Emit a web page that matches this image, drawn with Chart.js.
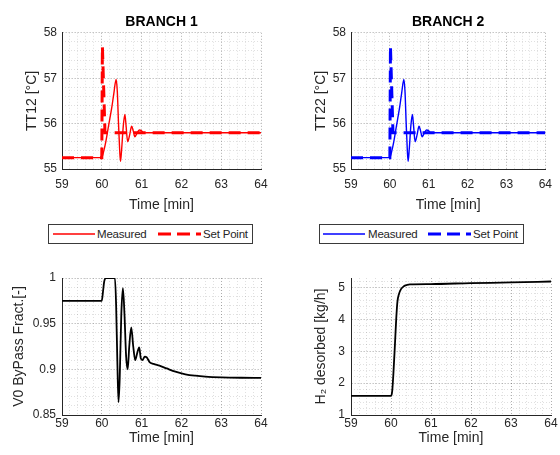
<!DOCTYPE html>
<html><head><meta charset="utf-8">
<script src="https://cdn.jsdelivr.net/npm/chart.js@4"></script>
<style>
body{margin:0;background:#fff;width:560px;height:455px;overflow:hidden;position:relative;font-family:"Liberation Sans",Arial,sans-serif;}
canvas{position:absolute;}
.legend{position:absolute;height:18px;border:1px solid #3a3a3a;background:#fff;font-size:11.5px;color:#262626;}
.legend svg{position:absolute;top:0;left:0;}
.legend span{position:absolute;top:2px;line-height:14px;letter-spacing:-0.2px;}
</style></head><body>
<canvas id="c1" width="280" height="215" style="left:0;top:0"></canvas>
<canvas id="c2" width="280" height="215" style="left:280px;top:0"></canvas>
<canvas id="c3" width="280" height="200" style="left:0;top:255px"></canvas>
<canvas id="c4" width="280" height="200" style="left:280px;top:255px"></canvas>

<div class="legend" style="left:48px;top:224px;width:203px">
  <svg width="200" height="18">
    <line x1="4" y1="9" x2="46" y2="9" stroke="#ff0000" stroke-width="1.3"/>
    <line x1="109" y1="9" x2="152" y2="9" stroke="#ff0000" stroke-width="3" stroke-dasharray="13,6"/>
  </svg>
  <span style="left:48px">Measured</span>
  <span style="left:154px">Set Point</span>
</div>
<div class="legend" style="left:319px;top:224px;width:203px">
  <svg width="200" height="18">
    <line x1="3" y1="9" x2="45" y2="9" stroke="#0000ff" stroke-width="1.3"/>
    <line x1="108" y1="9" x2="151" y2="9" stroke="#0000ff" stroke-width="3" stroke-dasharray="13,6"/>
  </svg>
  <span style="left:48px">Measured</span>
  <span style="left:153px">Set Point</span>
</div>

<script>
// ---------- data ----------
const xTicks = [59, 60, 61, 62, 63, 64];

const measTime = [59, 60.0, 60.05, 60.1, 60.15, 60.2, 60.25, 60.3, 60.36, 60.39, 60.42, 60.45, 60.47, 60.5, 60.54, 60.58, 60.61, 60.65, 60.7, 60.75, 60.79, 60.83, 60.88, 60.94, 61.0, 61.05, 61.12, 61.5, 64];
const tt12Measured = [55.25, 55.25, 55.4, 55.6, 55.85, 56.1, 56.35, 56.65, 56.97, 56.7, 56.0, 55.4, 55.17, 55.45, 55.95, 56.2, 55.95, 55.6, 55.75, 55.94, 55.84, 55.71, 55.78, 55.86, 55.84, 55.79, 55.8, 55.8, 55.8];
const tt22Measured = [55.25, 55.25, 55.4, 55.6, 55.85, 56.1, 56.35, 56.65, 56.97, 56.7, 56.0, 55.4, 55.17, 55.45, 55.95, 56.2, 55.95, 55.6, 55.75, 55.94, 55.84, 55.71, 55.78, 55.86, 55.84, 55.79, 55.8, 55.8, 55.8];

const spTime = [59, 60.0, 60.015, 60.08, 64];
const tt12SetPoint = [55.25, 55.25, 57.7, 55.8, 55.8];
const tt22SetPoint = [55.25, 55.25, 57.7, 55.8, 55.8];

const bypassTime = [59, 60.0, 60.03, 60.06, 60.1, 60.33, 60.36, 60.39, 60.42, 60.45, 60.49, 60.53, 60.57, 60.61, 60.65, 60.69, 60.74, 60.79, 60.84, 60.89, 60.94, 60.98, 61.02, 61.08, 61.13, 61.2, 61.3, 61.45, 61.63, 61.85, 62.1, 62.35, 62.6, 63.0, 63.5, 64];
const bypassFrac = [0.975, 0.975, 0.985, 0.996, 1.0, 1.0, 0.97, 0.91, 0.864, 0.89, 0.96, 0.989, 0.96, 0.915, 0.9, 0.925, 0.946, 0.925, 0.91, 0.918, 0.924, 0.912, 0.91, 0.914, 0.913, 0.908, 0.906, 0.904, 0.901, 0.8975, 0.8946, 0.893, 0.892, 0.8912, 0.8908, 0.8907];

const h2Time = [59, 60.0, 60.03, 60.06, 60.1, 60.13, 60.16, 60.2, 60.25, 60.32, 60.4, 60.47, 61, 62, 63, 64];
const h2Desorbed = [1.6, 1.6, 1.75, 2.3, 3.25, 4.0, 4.55, 4.8, 4.95, 5.04, 5.08, 5.1, 5.11, 5.14, 5.16, 5.19];

// ---------- styling ----------
const FONT = '"Liberation Sans", Arial, sans-serif';
const TXT = '#262626';
const AXIS = '#262626';
const MAJOR = 'rgba(0,0,0,0.22)';
const MINOR = 'rgba(0,0,0,0.12)';

function pts(xs, ys){ return xs.map((x,i)=>({x:x, y:ys[i]})); }
function fmt(v){ return String(+Number(v).toFixed(4)); }

function buildScales(o){
  return {
    xm: {type:'linear', position:'bottom', min:59, max:64,
      ticks:{display:false, stepSize:0.2, includeBounds:false},
      grid:{color:MINOR, drawTicks:false, lineWidth:1},
      border:{display:false, dash:[1,2]},
      afterFit:s=>{s.height=0;}},
    ym: {type:'linear', position:'left', min:o.ymin, max:o.ymax,
      ticks:{display:false, stepSize:o.yminor, includeBounds:false},
      grid:{color:MINOR, drawTicks:false, lineWidth:1},
      border:{display:false, dash:[1,2]},
      afterFit:s=>{s.width=0;}},
    x: {type:'linear', position:'bottom', min:59, max:64,
      afterBuildTicks: s => { s.ticks = xTicks.map(v=>({value:v})); },
      ticks:{padding:o.xTickPad, color:TXT, font:{size:12, family:FONT}, maxRotation:0, callback:fmt},
      grid:{color:MAJOR, drawTicks:false, lineWidth:1},
      border:{display:true, color:AXIS, width:1, dash:[1,2]},
      title:{display:true, text:'Time [min]', color:TXT, font:{size:14, family:FONT}, padding:{top:0, bottom:o.xTitlePad}},
      afterFit:s=>{s.height=o.xH;}},
    y: {type:'linear', position:'left', min:o.ymin, max:o.ymax,
      afterBuildTicks: s => { s.ticks = o.yTicks.map(v=>({value:v})); },
      ticks:{padding:o.yTickPad, color:TXT, font:{size:12, family:FONT}, callback:fmt},
      grid:{color:MAJOR, drawTicks:false, lineWidth:1},
      border:{display:true, color:AXIS, width:1, dash:[1,2]},
      title:{display:true, text:o.yTitle, color:TXT, font:{size:14, family:FONT}, padding:{top:o.yTitlePad, bottom:0}},
      afterFit:s=>{s.width=o.yW;}}
  };
}

function makeChart(id, datasets, o){
  new Chart(document.getElementById(id), {
    type:'line',
    data:{datasets:datasets},
    options:{
      responsive:false, animation:false, devicePixelRatio:1,
      layout:{padding:o.pad},
      elements:{point:{radius:0}},
      plugins:{
        legend:{display:false}, tooltip:{enabled:false},
        title:{display:!!o.title, text:o.title, fullSize:false, color:'#000',
               font:{size:14, weight:'bold', family:FONT}, padding:{top:14, bottom:2}}
      },
      scales:buildScales(o)
    }
  });
}

const tempTicks = [55, 56, 57, 58];

makeChart('c1', [
  {data:pts(spTime, tt12SetPoint), borderColor:'#ff0000', borderWidth:3, borderDash:[12,7], tension:0},
  {data:pts(measTime, tt12Measured), borderColor:'#ff0000', borderWidth:1.4, tension:0.35, cubicInterpolationMode:'monotone'}
], {title:'BRANCH 1', pad:{left:0,right:19,top:0,bottom:0}, ymin:55, ymax:58, yminor:0.2, yTicks:tempTicks,
    yTitle:'TT12 [°C]', yW:62, yTitlePad:24, yTickPad:5, xH:46, xTickPad:8, xTitlePad:1});

makeChart('c2', [
  {data:pts(spTime, tt22SetPoint), borderColor:'#0000ff', borderWidth:3, borderDash:[12,7], tension:0},
  {data:pts(measTime, tt22Measured), borderColor:'#0000ff', borderWidth:1.4, tension:0.35, cubicInterpolationMode:'monotone'}
], {title:'BRANCH 2', pad:{left:0,right:9,top:0,bottom:0}, ymin:55, ymax:58, yminor:0.2, yTicks:tempTicks,
    yTitle:'TT22 [°C]', yW:71, yTitlePad:33, yTickPad:5, xH:46, xTickPad:8, xTitlePad:1});

makeChart('c3', [
  {data:pts(bypassTime, bypassFrac), borderColor:'#000000', borderWidth:1.8, cubicInterpolationMode:'monotone'}
], {title:'', pad:{left:0,right:19,top:23,bottom:0}, ymin:0.85, ymax:1.0, yminor:0.01, yTicks:[0.85,0.9,0.95,1],
    yTitle:'V0 ByPass Fract.[-]', yW:62, yTitlePad:11, yTickPad:6, xH:40, xTickPad:1, xTitlePad:8});

makeChart('c4', [
  {data:pts(h2Time, h2Desorbed), borderColor:'#000000', borderWidth:1.8, cubicInterpolationMode:'monotone'}
], {title:'', pad:{left:0,right:9,top:23,bottom:0}, ymin:1, ymax:5.3, yminor:0.2, yTicks:[1,2,3,4,5],
    yTitle:'H\u2082 desorbed [kg/h]', yW:71, yTitlePad:33, yTickPad:6, xH:40, xTickPad:1, xTitlePad:8});
</script>
</body></html>
